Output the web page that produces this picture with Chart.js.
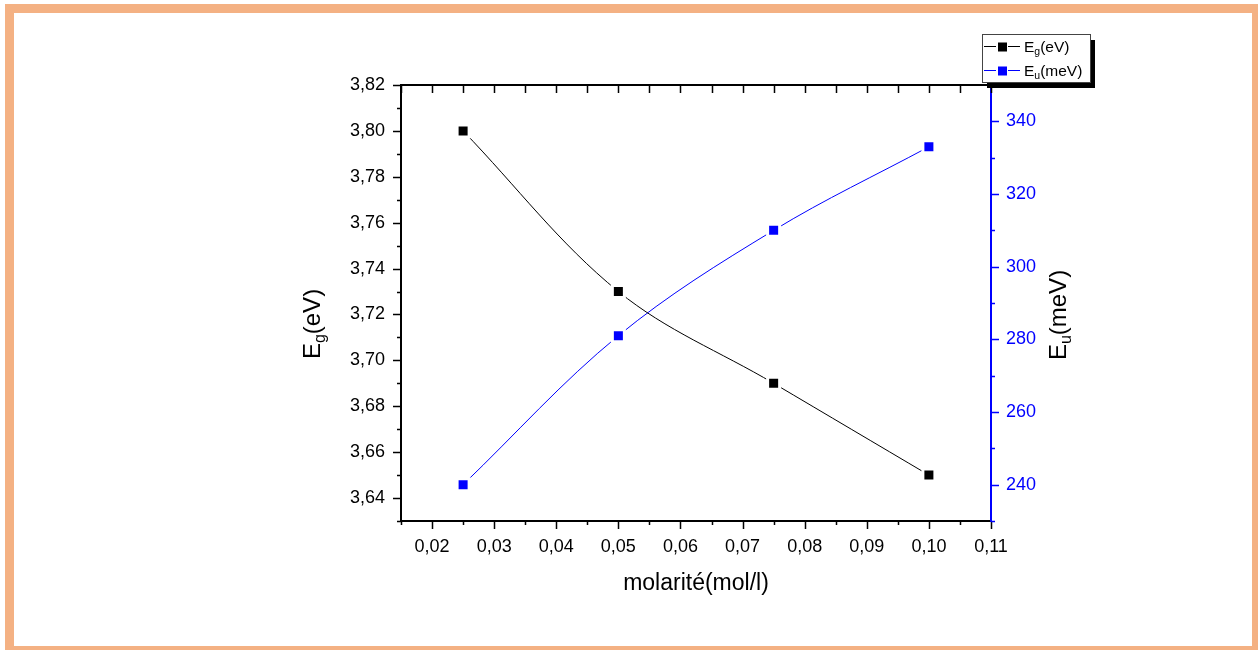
<!DOCTYPE html>
<html>
<head>
<meta charset="utf-8">
<script src="https://cdn.jsdelivr.net/npm/chart.js@4.4.0/dist/chart.umd.min.js"></script>
<style>
  html, body { margin: 0; padding: 0; background: #ffffff; }
  #frame {
    position: absolute; left: 5px; top: 4px; width: 1253px; height: 646px;
    box-sizing: border-box; border-style: solid; border-color: #f4b183;
    border-width: 9px 6px 4px 9px;
  }
  #chart { position: absolute; left: 0; top: 0; }
</style>
</head>
<body>
<div id="frame"></div>
<canvas id="chart" width="1258" height="650"></canvas>
<script>
// data
const molarity = [0.025, 0.05, 0.075, 0.1];
const egValues = [3.80, 3.73, 3.69, 3.65];
const euValues = [240, 281, 310, 333];

// axis ticks
const xTicks = [0.02, 0.03, 0.04, 0.05, 0.06, 0.07, 0.08, 0.09, 0.10, 0.11];
const xMinorTicks = [0.015, 0.025, 0.035, 0.045, 0.055, 0.065, 0.075, 0.085, 0.095, 0.105];
const egTicks = [3.64, 3.66, 3.68, 3.70, 3.72, 3.74, 3.76, 3.78, 3.80, 3.82];
const egMinorTicks = [3.63, 3.65, 3.67, 3.69, 3.71, 3.73, 3.75, 3.77, 3.79, 3.81];
const euTicks = [240, 260, 280, 300, 320, 340];
const euMinorTicks = [230, 250, 270, 290, 310, 330, 350];

const FONT = '"Liberation Sans", Arial, sans-serif';
const BLUE = "#0000ff";

function toXY(xs, ys) {
  return xs.map((x, i) => ({ x: x, y: ys[i] }));
}

function comma(v, digits) {
  return v.toFixed(digits).replace(".", ",");
}

// text with a subscript part, centred on (cx, cy)
function drawRichText(ctx, parts, cx, cy, angle, color) {
  ctx.save();
  ctx.translate(cx, cy);
  ctx.rotate(angle);
  ctx.fillStyle = color;
  ctx.textBaseline = "alphabetic";
  let total = 0;
  parts.forEach((p) => {
    ctx.font = p.size + "px " + FONT;
    p.w = ctx.measureText(p.text).width;
    total += p.w;
  });
  let x = -total / 2;
  parts.forEach((p) => {
    ctx.font = p.size + "px " + FONT;
    ctx.fillText(p.text, x, p.dy);
    x += p.w;
  });
  ctx.restore();
}

// tick marks (major + minor), top axis line, titles and legend
const decorations = {
  id: "decorations",
  afterDraw(chart) {
    const ctx = chart.ctx;
    const a = chart.chartArea;
    const sx = chart.scales.x;
    const sy = chart.scales.y;
    const sy1 = chart.scales.y1;
    ctx.save();
    ctx.lineWidth = 1.5;

    // bottom axis, outward
    ctx.strokeStyle = "#000";
    ctx.beginPath();
    xTicks.forEach((v) => {
      const px = Math.round(sx.getPixelForValue(v)) + 0.5;
      ctx.moveTo(px, a.bottom); ctx.lineTo(px, a.bottom + 8);
    });
    xMinorTicks.forEach((v) => {
      const px = Math.round(sx.getPixelForValue(v)) + 0.5;
      ctx.moveTo(px, a.bottom); ctx.lineTo(px, a.bottom + 4);
    });
    // top axis, inward
    xTicks.concat(xMinorTicks).forEach((v) => {
      const px = Math.round(sx.getPixelForValue(v)) + 0.5;
      ctx.moveTo(px, a.top); ctx.lineTo(px, a.top + 8);
    });
    // left axis, outward
    egTicks.forEach((v) => {
      const py = Math.round(sy.getPixelForValue(v)) + 0.5;
      ctx.moveTo(a.left, py); ctx.lineTo(a.left - 8, py);
    });
    egMinorTicks.forEach((v) => {
      const py = Math.round(sy.getPixelForValue(v)) + 0.5;
      ctx.moveTo(a.left, py); ctx.lineTo(a.left - 4, py);
    });
    ctx.stroke();

    // top axis line
    ctx.lineWidth = 2;
    ctx.beginPath();
    ctx.moveTo(a.left - 1, a.top);
    ctx.lineTo(a.right, a.top);
    ctx.stroke();

    // right axis, outward, blue
    ctx.lineWidth = 1.5;
    ctx.strokeStyle = BLUE;
    ctx.beginPath();
    euTicks.forEach((v) => {
      const py = Math.round(sy1.getPixelForValue(v)) + 0.5;
      ctx.moveTo(a.right, py); ctx.lineTo(a.right + 8, py);
    });
    euMinorTicks.forEach((v) => {
      const py = Math.round(sy1.getPixelForValue(v)) + 0.5;
      ctx.moveTo(a.right, py); ctx.lineTo(a.right + 4, py);
    });
    ctx.stroke();

    // axis titles
    drawRichText(ctx, [{ text: "molarité(mol/l)", size: 23, dy: 8 }],
      (a.left + a.right) / 2, 582, 0, "#000");
    drawRichText(ctx, [
      { text: "E", size: 24, dy: 8 },
      { text: "g", size: 16, dy: 13 },
      { text: "(eV)", size: 24, dy: 8 },
    ], 312, 324, -Math.PI / 2, "#000");
    drawRichText(ctx, [
      { text: "E", size: 24, dy: 8 },
      { text: "u", size: 16, dy: 13 },
      { text: "(meV)", size: 24, dy: 8 },
    ], 1058, 315, -Math.PI / 2, "#000");

    // legend with drop shadow
    const lx = 982, ly = 34, lw = 108, lh = 48;
    ctx.fillStyle = "#000";
    ctx.fillRect(lx + 5, ly + 6, lw, lh);
    ctx.fillStyle = "#fff";
    ctx.fillRect(lx, ly, lw, lh);
    ctx.strokeStyle = "#444";
    ctx.lineWidth = 1;
    ctx.strokeRect(lx + 0.5, ly + 0.5, lw, lh);
    const rows = [
      { color: "#000", main: "E", sub: "g", rest: "(eV)", y: 46 },
      { color: BLUE, main: "E", sub: "u", rest: "(meV)", y: 70 },
    ];
    rows.forEach((r) => {
      ctx.strokeStyle = r.color;
      ctx.lineWidth = 1.2;
      ctx.beginPath();
      ctx.moveTo(984, r.y + 0.5); ctx.lineTo(996, r.y + 0.5);
      ctx.moveTo(1008, r.y + 0.5); ctx.lineTo(1020, r.y + 0.5);
      ctx.stroke();
      ctx.fillStyle = r.color;
      ctx.fillRect(998, r.y - 3.5, 9, 9);
      ctx.fillStyle = "#000";
      ctx.textBaseline = "alphabetic";
      let tx = 1024;
      ctx.font = "15.5px " + FONT;
      ctx.fillText(r.main, tx, r.y + 6);
      tx += ctx.measureText(r.main).width;
      ctx.font = "10.5px " + FONT;
      ctx.fillText(r.sub, tx, r.y + 9);
      tx += ctx.measureText(r.sub).width;
      ctx.font = "15.5px " + FONT;
      ctx.fillText(r.rest, tx, r.y + 6);
    });
    ctx.restore();
  },
};

const ctx = document.getElementById("chart").getContext("2d");
const chart = new Chart(ctx, {
  type: "line",
  data: {
    datasets: [
      {
        label: "Eg(eV)",
        data: toXY(molarity, egValues),
        yAxisID: "y",
        borderColor: "#000",
        backgroundColor: "#000",
        borderWidth: 1,
        tension: 0.35,
        pointStyle: "rect",
        pointRadius: 8.5,
        pointBorderWidth: 3,
        pointBorderColor: "#fff",
        pointBackgroundColor: "#000",
        fill: false,
      },
      {
        label: "Eu(meV)",
        data: toXY(molarity, euValues),
        yAxisID: "y1",
        borderColor: BLUE,
        backgroundColor: BLUE,
        borderWidth: 1,
        tension: 0.35,
        pointStyle: "rect",
        pointRadius: 8.5,
        pointBorderWidth: 3,
        pointBorderColor: "#fff",
        pointBackgroundColor: BLUE,
        fill: false,
      },
    ],
  },
  options: {
    responsive: false,
    animation: false,
    layout: { padding: { top: 85, left: 0, right: 0, bottom: 0 } },
    plugins: {
      legend: { display: false },
      tooltip: { enabled: false },
    },
    scales: {
      x: {
        type: "linear",
        min: 0.015,
        max: 0.11,
        afterBuildTicks: (scale) => { scale.ticks = xTicks.map((v) => ({ value: v })); },
        afterFit: (scale) => { scale.height = 129; },
        grid: { drawOnChartArea: false, drawTicks: false },
        border: { color: "#000", width: 2 },
        ticks: {
          padding: 15,
          color: "#000",
          font: { family: FONT, size: 18 },
          maxRotation: 0,
          callback: (v) => comma(v, 2),
        },
      },
      y: {
        type: "linear",
        position: "left",
        min: 3.63,
        max: 3.82,
        afterBuildTicks: (scale) => { scale.ticks = egTicks.map((v) => ({ value: v })); },
        afterFit: (scale) => { scale.width = 401; },
        grid: { drawOnChartArea: false, drawTicks: false },
        border: { color: "#000", width: 2 },
        ticks: {
          padding: 16,
          color: "#000",
          font: { family: FONT, size: 18 },
          callback: (v) => comma(v, 2),
        },
      },
      y1: {
        type: "linear",
        position: "right",
        min: 230,
        max: 350,
        afterBuildTicks: (scale) => { scale.ticks = euTicks.map((v) => ({ value: v })); },
        afterFit: (scale) => { scale.width = 267; },
        grid: { drawOnChartArea: false, drawTicks: false },
        border: { color: BLUE, width: 2 },
        ticks: {
          padding: 15,
          color: BLUE,
          font: { family: FONT, size: 18 },
          callback: (v) => String(v),
        },
      },
    },
  },
  plugins: [decorations],
});
</script>
</body>
</html>
